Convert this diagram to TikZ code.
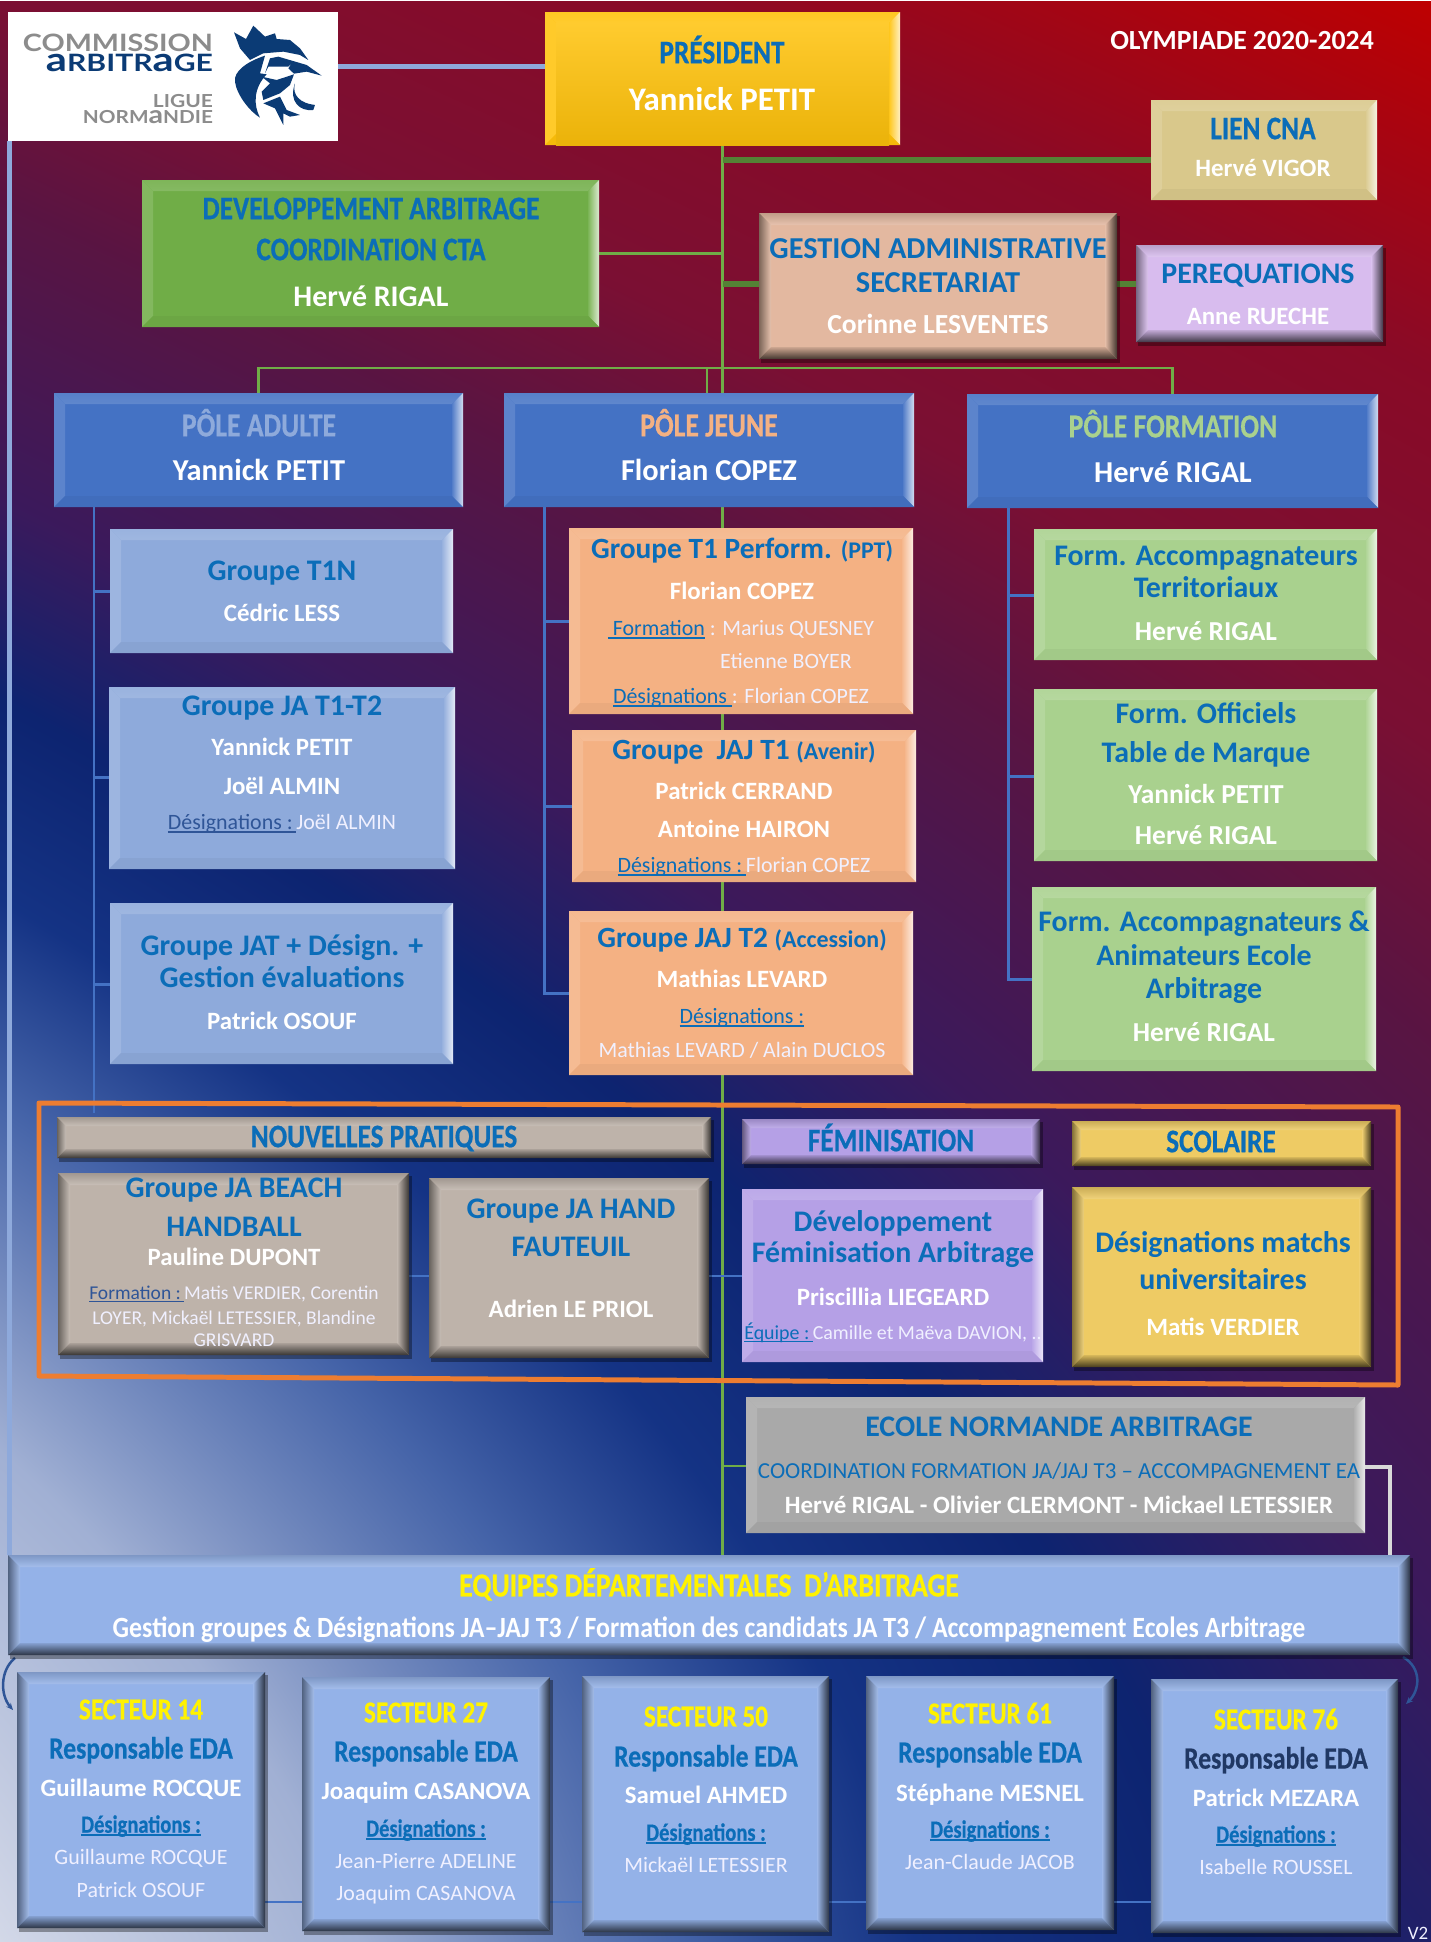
\documentclass[tikz,border=0pt]{standalone}
\usepackage{fontspec}
\usepackage{graphicx}
\setmainfont{Carlito}
\newfontface\condb{Carlito Bold}[FakeStretch=0.83,FakeBold=0.6]
\newfontface\condw{Carlito Bold}[FakeStretch=0.88]
\newfontfamily\logof{Lato}
\usetikzlibrary{arrows.meta,calc}
\definecolor{bluet}{HTML}{0B6DB8}
\definecolor{dkul}{HTML}{2F5597}
\definecolor{navyt}{HTML}{203864}
\definecolor{goldb}{HTML}{FFC20A}
\definecolor{greenb}{HTML}{70AD47}
\definecolor{sandb}{HTML}{D9C88B}
\definecolor{peachb}{HTML}{E3B8A0}
\definecolor{lilacb}{HTML}{D8BCEE}
\definecolor{poleb}{HTML}{4472C4}
\definecolor{skyb}{HTML}{8EAADB}
\definecolor{orab}{HTML}{F4B183}
\definecolor{lgreenb}{HTML}{A9D18E}
\definecolor{taupeb}{HTML}{BEB3AA}
\definecolor{violb}{HTML}{B5A0E6}
\definecolor{yelb}{HTML}{EECB64}
\definecolor{greyb}{HTML}{A9A9A9}
\definecolor{eqb}{HTML}{94B2E8}
\definecolor{lineg}{HTML}{70AD47}
\definecolor{linedg}{HTML}{548235}
\definecolor{lineb}{HTML}{4472C4}
\definecolor{linesky}{HTML}{8EA9DB}
\definecolor{frameo}{HTML}{ED7D31}
\definecolor{rooster}{HTML}{0B3B75}
\definecolor{logogrey}{HTML}{8C8C8C}
\pgfdeclarelayer{back}\pgfdeclarelayer{conn}
\pgfsetlayers{back,conn,main}
% background: piecewise colour ramp along a bent diagonal
\pgfdeclarefunctionalshading{bgshade}{\pgfpointorigin}{\pgfpoint{1431bp}{1942bp}}{}{
 1942 exch sub
 dup 1942 div dup mul
 dup dup mul
 3 index 1431 div dup 1 exch sub mul 850 mul mul
 exch 3 index 1431 div mul 680 mul
 add neg add
 exch 0.45 mul sub
 dup -300 lt { 650 add 350 div dup .75 exch -.21 mul add exch dup 0 exch .04 mul add exch 0 exch .15 mul add }
 { dup 0 lt { 300 add 300 div dup .54 exch -.06 mul add exch dup .04 exch .02 mul add exch .15 exch .05 mul add }
 { dup 200 lt { 200 div dup .48 exch -.13 mul add exch dup .06 exch .02 mul add exch .20 exch .06 mul add }
 { dup 500 lt { 200 sub 300 div dup .35 exch -.12 mul add exch dup .08 exch .02 mul add exch .26 exch .10 mul add }
 { dup 700 lt { 500 sub 200 div dup .23 exch -.18 mul add exch dup .10 exch .04 mul add exch .36 exch .08 mul add }
 { dup 900 lt { 700 sub 200 div dup .05 exch .03 mul add exch dup .14 exch .06 mul add exch .44 exch .08 mul add }
 { dup 1100 lt { 900 sub 200 div dup .08 exch .19 mul add exch dup .20 exch .19 mul add exch .52 exch .14 mul add }
 { dup 1450 lt { 1100 sub 350 div dup .27 exch .36 mul add exch dup .39 exch .30 mul add exch .66 exch .17 mul add }
 { 1450 sub 500 div dup .63 exch .20 mul add exch dup .69 exch .16 mul add exch .83 exch .08 mul add }
 ifelse } ifelse } ifelse } ifelse } ifelse } ifelse } ifelse } ifelse
}
\tikzset{
 txt/.style n args={3}{anchor=base,inner sep=0pt,outer sep=0pt,yshift={-0.31*#1*1pt},text=#2,font=#3\fontsize{#1}{#1}\selectfont},
 hd/.style={txt={#1}{bluet}{\condb}},
 ti/.style={txt={#1}{bluet}{\bfseries}},
 nm/.style={txt={#1}{white}{\bfseries}},
 hw/.style={txt={#1}{white}{\condw}},
 rg/.style={txt={#1}{white!94!blue}{}},
 yl/.style={txt={#1}{yellow}{\condb}},
 boxbody/.style={inner sep=0pt,outer sep=0pt,draw=none},
 link/.style={lineg,line width=2.5pt},
 linkthick/.style={linedg,line width=5.5pt},
 linkblue/.style={lineb,line width=3pt},
 linksky/.style={linesky,line width=5pt},
 linkpale/.style={white!85!black,line width=3.5pt},
 curl/.style={dkul,line width=2.5pt,-{Stealth[length=7pt,width=6pt]}},
 logotxt/.style={anchor=base east,inner sep=0pt,outer sep=0pt,font=\logof\bfseries\fontsize{#1}{#1}\selectfont},
}
\newcounter{tlc}
\newcommand{\tl}[4]{\stepcounter{tlc}\node[#3] (tl\arabic{tlc}) at (#1,#2) {#4};}
\newcommand{\ulx}[2]{{\setbox0\hbox{{\color{#1}#2}}\rlap{{\color{#1}\rule[-3.2pt]{\wd0}{1.6pt}}}\box0}}
\newcommand{\fitw}[2]{\resizebox{#1bp}{\height}{#2}}
\newcommand{\capa}{\scalebox{1.38}{a}}
% kinds: flat bevel (A) and bevel with dark lower and right sides (B)
\newcommand{\bxA}[6]{%
 \pgfmathsetmacro\bw{#4-#2}\pgfmathsetmacro\bh{#5-#3}%
 \pgfmathsetmacro\bd{11}%
 \node[boxbody,fill=#6,minimum width=\bw bp,minimum height=\bh bp] (#1) at ({(#2+#4)/2},{(#3+#5)/2}) {};
 \shade[top color=#6!90!white,middle color=#6!40!white,bottom color=#6!85!white] (#2,#3)--(#4,#3)--({#4-\bd},{#3+\bd})--({#2+\bd},{#3+\bd})--cycle;
 \fill[#6!87!white] (#2,#3)--({#2+\bd},{#3+\bd})--({#2+\bd},{#5-\bd})--(#2,#5)--cycle;
 \shade[left color=#6!92!white,right color=white!75!#6] (#4,#3)--({#4-\bd},{#3+\bd})--({#4-\bd},{#5-\bd})--(#4,#5)--cycle;
 \fill[#6!96!black] (#2,#5)--({#2+\bd},{#5-\bd})--({#4-\bd},{#5-\bd})--(#4,#5)--cycle;
}
\newcommand{\bxB}[6]{%
 \pgfmathsetmacro\bw{#4-#2}\pgfmathsetmacro\bh{#5-#3}%
 \pgfmathsetmacro\bd{\bh<60?9:12}%
 \fill[black,opacity=.35] ({#2+2},{#3+3}) rectangle ({#4+3},{#5+4});
 \node[boxbody,fill=#6,minimum width=\bw bp,minimum height=\bh bp] (#1) at ({(#2+#4)/2},{(#3+#5)/2}) {};
 \shade[top color=#6!85!black,middle color=#6!25!white,bottom color=#6!85!white] (#2,#3)--(#4,#3)--({#4-\bd},{#3+\bd})--({#2+\bd},{#3+\bd})--cycle;
 \shade[left color=#6!55!black,right color=#6!85!white] (#2,#3)--({#2+\bd},{#3+\bd})--({#2+\bd},{#5-\bd})--(#2,#5)--cycle;
 \shade[left color=#6!92!white,right color=#6!30!black] (#4,#3)--({#4-\bd},{#3+\bd})--({#4-\bd},{#5-\bd})--(#4,#5)--cycle;
 \shade[top color=#6!90!black,bottom color=#6!30!black] (#2,#5)--({#2+\bd},{#5-\bd})--({#4-\bd},{#5-\bd})--(#4,#5)--cycle;
}
\begin{document}
\begin{tikzpicture}[x=1bp,y=-1bp]
\useasboundingbox (0,0) rectangle (1431,1942);
\begin{pgfonlayer}{back}
 \node[inner sep=0pt,outer sep=0pt,anchor=north west] (bg) at (0,0) {\pgfuseshading{bgshade}};
\end{pgfonlayer}

% logo
\node[boxbody,fill=white,minimum width=330bp,minimum height=129bp] (logo) at (173,76.5) {};
\tl{213}{43}{logotxt=24,yshift=-8.5pt,text=logogrey}{\fitw{190}{COMMISSION}}
\tl{213}{63}{logotxt=24,yshift=-8.5pt,text=rooster}{\fitw{167}{\capa RBITR\capa GE}}
\tl{213}{101}{logotxt=18,yshift=-6.5pt,text=logogrey}{\fitw{60}{LIGUE}}
\tl{213}{117}{logotxt=18,yshift=-6.5pt,text=logogrey}{\fitw{130}{NORM\capa NDIE}}
\begin{scope}[shift={(220,15)},x=0.3333bp,y=-0.3333bp,fill=rooster]
 \fill (42,52)--(78,72)--(100,32)--(135,65)--(165,55)--(170,72)--(210,75)--(240,100)--(265,135)--(240,120)--(190,110)--(130,115)--(90,135)--(60,100)--cycle;
 \fill (135,122) .. controls (80,140) and (40,170) .. (45,200) .. controls (50,240) and (90,290) .. (120,308) .. controls (100,270) and (100,220) .. (140,178) -- (120,175) -- cycle;
 \fill (150,130)--(175,125)--(260,150)--(305,182)--(260,170)--(222,176)--(205,160)--(215,145)--(205,155)--(145,155)--(135,175)--cycle;
 \fill (125,185)--(170,195)--(222,178)--(210,210)--(180,235)--(130,255)--(125,230)--(150,205)--cycle;
 \fill (225,205) .. controls (215,240) and (240,265) .. (285,270) -- (280,285) .. controls (240,290) and (205,260) .. (225,205) -- cycle;
 \fill (130,265)--(180,245)--(200,285)--(240,300)--(210,305)--(190,295)--(190,330)--(165,280)--cycle;
\end{scope}

% top boxes
\bxA{pres}{545}{12}{900}{145}{goldb}
\shade[top color=goldb!85!white,middle color=goldb,bottom color=goldb!92!black] (556,23) rectangle (889,145);
\bxA{lien}{1151}{100}{1377}{200}{sandb}
\bxA{dev}{142}{180}{599}{327}{greenb}
\bxB{gest}{759}{213}{1117}{359}{peachb}
\bxB{pereq}{1136}{245}{1383}{342}{lilacb}
% poles
\bxA{padu}{54}{393}{463}{507}{poleb}
\bxA{pjeu}{504}{393}{914}{507}{poleb}
\bxA{pfor}{967}{394}{1378}{508}{poleb}
% adult column
\bxA{tin}{110}{529}{453}{653}{skyb}
\bxA{jat12}{109}{687}{455}{869}{skyb}
\bxA{jat}{110}{903}{453}{1064}{skyb}
% youth column
\bxA{perf}{569}{528}{913}{714}{orab}
\bxA{jaj1}{572}{730}{916}{882}{orab}
\bxA{jaj2}{569}{911}{913}{1075}{orab}
% training column
\bxA{terr}{1034}{529}{1377}{660}{lgreenb}
\bxA{offi}{1034}{689}{1377}{861}{lgreenb}
\bxA{anim}{1032}{887}{1376}{1071}{lgreenb}
% new practices band
\bxB{nouv}{57}{1117}{711}{1158}{taupeb}
\bxB{beach}{58}{1173}{409}{1355}{taupeb}
\bxB{faut}{429}{1178}{709}{1358}{taupeb}
\bxB{femh}{742}{1119}{1040}{1164}{violb}
\bxB{scoh}{1072}{1121}{1371}{1166}{yelb}
\bxA{fem}{742}{1189}{1043}{1362}{violb}
\bxB{sco}{1072}{1187}{1371}{1367}{yelb}
\bxA{ecole}{746}{1397}{1365}{1533}{greyb}
\bxB{equi}{8}{1555}{1410}{1655}{eqb}
% sectors
\bxB{s14}{17}{1672}{265}{1928}{eqb}
\bxB{s27}{302}{1677}{550}{1931}{eqb}
\bxB{s50}{582}{1676}{829}{1932}{eqb}
\bxB{s61}{866}{1676}{1114}{1930}{eqb}
\bxB{s76}{1151}{1679}{1398}{1933}{eqb}

% connectors
\begin{pgfonlayer}{conn}
 \coordinate (lj) at (1151,160);
 \coordinate (pl) at (338,66.5);
 \draw[linksky] (pl) -- (pl -| pres.west);
 \coordinate (lv) at (9.5,141);
 \draw[linksky] (lv) -- (lv |- equi.north);
 \draw[link] (pres.south) -- (pres.south |- equi.north);
 \draw[linkthick] (lj -| pres.south) -- (lj);
 \draw[link] (dev.east) -- (dev.east -| pres.south);
 \coordinate (gj) at (759,284);
 \draw[linkthick] (gj -| pres.south) -- (gj);
 \draw[linkthick] (gj -| gest.east) -- (gj -| pereq.west);
 \coordinate (hb) at (722.5,368);
 \draw[link] (padu.north) -- (padu.north |- hb) -- (pfor.north |- hb) -- (pfor.north);
 \coordinate (pjx) at (707,393);
 \draw[link] (pjx |- hb) -- (pjx);
 % adult
 \coordinate (av) at (94,507);
 \coordinate (ave) at (94,1113);
 \draw[linkblue] (av) -- (ave);
 \foreach \n/\yy in {tin/591,jat12/777,jat/984} {\coordinate (b\n) at (94,\yy); \draw[linkblue] (b\n) -- (b\n -| \n.west);}
 % youth
 \coordinate (jv) at (544,507);
 \coordinate (jve) at (544,993);
 \draw[linkblue] (jv) -- (jve) -- (jve -| jaj2.west);
 \foreach \n/\yy in {perf/621,jaj1/806} {\coordinate (b\n) at (544,\yy); \draw[linkblue] (b\n) -- (b\n -| \n.west);}
 % training
 \coordinate (fv) at (1008,508);
 \coordinate (fve) at (1008,979);
 \draw[linkblue] (fv) -- (fve) -- (fve -| anim.west);
 \foreach \n/\yy in {terr/595,offi/776} {\coordinate (b\n) at (1008,\yy); \draw[linkblue] (b\n) -- (b\n -| \n.west);}
 % band and school
 \coordinate (bl) at (409,1276);
 \draw[lineb,line width=1.5pt] (bl) -- (bl -| faut.west);
 \draw[lineb,line width=1.5pt] (bl -| faut.east) -- (bl -| fem.west);
 \coordinate (ej) at (746,1466);
 \draw[link] (ej -| pres.south) -- (ej);
 \coordinate (ep) at (1365,1467);
 \coordinate (eq) at (1390,1565);
 \draw[linkpale] (ep) -| (eq);
 % sectors
 \coordinate (sl) at (265,1902);
 \draw[lineb,line width=1.5pt] (sl) -- (sl -| s27.west);
 \draw[lineb,line width=1.5pt] (sl -| s27.east) -- (sl -| s50.west);
 \draw[lineb,line width=1.5pt] (sl -| s50.east) -- (sl -| s61.west);
 \draw[lineb,line width=1.5pt] (sl -| s61.east) -- (sl -| s76.west);
 \coordinate (cl1) at (15,1658); \coordinate (cl2) at (13,1710);
 \coordinate (cr1) at (1403,1657); \coordinate (cr2) at (1406,1704);
 \draw[curl] (cl1) .. controls (0,1670) and (0,1695) .. (cl2);
 \draw[curl] (cr1) .. controls (1422,1668) and (1420,1690) .. (cr2);
 \draw[frameo,line width=5pt,line join=round] (39,1103)--(1398,1107)--(1398,1385)--(39,1376)--cycle;
\end{pgfonlayer}

% texts
\tl{1242}{41}{nm=27.8}{OLYMPIADE 2020-2024}
\tl{722}{53}{hd=33}{PRÉSIDENT}
\tl{722}{100}{nm=33}{Yannick PETIT}
\tl{1263}{129}{hd=33}{LIEN CNA}
\tl{1263}{169}{nm=25}{Hervé VIGOR}
\tl{371}{209}{hd=33}{DEVELOPPEMENT ARBITRAGE}
\tl{371}{250}{hd=33}{COORDINATION CTA}
\tl{371}{297}{nm=30}{Hervé RIGAL}
\tl{938}{249}{ti=30.5}{GESTION ADMINISTRATIVE}
\tl{938}{283}{ti=30.5}{SECRETARIAT}
\tl{938}{325}{nm=27.7}{Corinne LESVENTES}
\tl{1258}{274}{ti=30}{PEREQUATIONS}
\tl{1258}{317}{nm=25}{Anne RUECHE}

\tl{259}{426}{txt={33.5}{skyb}{\condb}}{PÔLE ADULTE}
\tl{259}{471}{nm=30.5}{Yannick PETIT}
\tl{709}{426}{txt={33.5}{orab}{\condb}}{PÔLE JEUNE}
\tl{709}{471}{nm=30.5}{Florian COPEZ}
\tl{1173}{427}{txt={33.5}{lgreenb}{\condb}}{PÔLE FORMATION}
\tl{1173}{473}{nm=30.5}{Hervé RIGAL}

\tl{282}{571}{ti=30}{Groupe T1N}
\tl{282}{614}{nm=25}{Cédric LESS}
\tl{282}{706}{ti=30}{Groupe JA T1-T2}
\tl{282}{748}{nm=25}{Yannick PETIT}
\tl{282}{787}{nm=25}{Joël ALMIN}
\tl{282}{823}{rg=22}{\ulx{dkul}{Désignations :\,}Joël ALMIN}
\tl{282}{946}{ti=30}{Groupe JAT + Désign. +}
\tl{282}{978}{ti=30}{Gestion évaluations}
\tl{282}{1022}{nm=25}{Patrick OSOUF}

\tl{742}{549}{ti=29.5}{Groupe T1 Perform. {\fontsize{24}{24}\selectfont(PPT)}}
\tl{742}{592}{nm=25}{Florian COPEZ}
\tl{741}{629}{rg=22}{\ulx{bluet}{\ Formation} : Marius QUESNEY}
\tl{786}{662}{rg=22}{Etienne BOYER}
\tl{741}{697}{rg=22}{\ulx{bluet}{Désignations }: Florian COPEZ}
\tl{744}{750}{ti=29.5}{Groupe\ \ JAJ T1 {\fontsize{24}{24}\selectfont(Avenir)}}
\tl{744}{792}{nm=25}{Patrick CERRAND}
\tl{744}{830}{nm=25}{Antoine HAIRON}
\tl{744}{866}{rg=22}{\ulx{bluet}{Désignations :\,}Florian COPEZ}
\tl{742}{938}{ti=29.5}{Groupe JAJ T2 {\fontsize{24}{24}\selectfont(Accession)}}
\tl{742}{980}{nm=25}{Mathias LEVARD}
\tl{742}{1017}{rg=22}{\ulx{bluet}{Désignations :}}
\tl{742}{1051}{rg=22}{Mathias LEVARD / Alain DUCLOS}

\tl{1206}{556}{ti=30}{Form. Accompagnateurs}
\tl{1206}{588}{ti=30}{Territoriaux}
\tl{1206}{632}{nm=27.5}{Hervé RIGAL}
\tl{1206}{714}{ti=30}{Form. Officiels}
\tl{1206}{753}{ti=30}{Table de Marque}
\tl{1206}{795}{nm=27.5}{Yannick PETIT}
\tl{1206}{836}{nm=27.5}{Hervé RIGAL}
\tl{1204}{922}{ti=30}{Form. Accompagnateurs \&}
\tl{1204}{956}{ti=30}{Animateurs Ecole}
\tl{1204}{989}{ti=30}{Arbitrage}
\tl{1204}{1033}{nm=27.5}{Hervé RIGAL}

\tl{384}{1137}{hd=33}{NOUVELLES PRATIQUES}
\tl{234}{1188}{ti=30}{Groupe JA BEACH}
\tl{234}{1227}{ti=30}{HANDBALL}
\tl{234}{1258}{nm=25}{Pauline DUPONT}
\tl{234}{1293}{rg=19.6}{\ulx{dkul}{Formation :\,}Matis VERDIER, Corentin}
\tl{234}{1318}{rg=19.6}{LOYER, Mickaël LETESSIER, Blandine}
\tl{234}{1340}{rg=19.6}{GRISVARD}
\tl{571}{1209}{ti=30}{Groupe JA HAND}
\tl{571}{1247}{ti=30}{FAUTEUIL}
\tl{571}{1310}{nm=25}{Adrien LE PRIOL}
\tl{891}{1141}{hd=33}{FÉMINISATION}
\tl{1221}{1142}{hd=33}{SCOLAIRE}
\tl{893}{1222}{ti=30}{Développement}
\tl{893}{1253}{ti=30}{Féminisation Arbitrage}
\tl{893}{1298}{nm=25}{Priscillia LIEGEARD}
\tl{893}{1333}{rg=20}{\ulx{bluet}{Équipe :\,}Camille et Maëva DAVION, ..}
\tl{1223}{1243}{ti=30}{Désignations matchs}
\tl{1223}{1280}{ti=30}{universitaires}
\tl{1223}{1328}{nm=25}{Matis VERDIER}
\tl{1059}{1427}{ti=30}{ECOLE NORMANDE ARBITRAGE}
\tl{1059}{1471}{txt={23}{bluet}{}}{COORDINATION FORMATION JA/JAJ T3 – ACCOMPAGNEMENT EA}
\tl{1059}{1506}{nm=25}{Hervé RIGAL - Olivier CLERMONT - Mickael LETESSIER}

\tl{709}{1586}{yl=33.7}{EQUIPES DÉPARTEMENTALES\ \ D’ARBITRAGE}
\tl{709}{1628}{hw=29.5}{Gestion groupes \& Désignations JA–JAJ T3 / Formation des candidats JA T3 / Accompagnement Ecoles Arbitrage}

% sectors text
\tl{141}{1710}{yl=30.5}{SECTEUR 14}
\tl{141}{1749}{hd=31}{Responsable EDA}
\tl{141}{1789}{nm=25}{Guillaume ROCQUE}
\tl{141}{1825}{hd=24.8}{\ulx{bluet}{Désignations :}}
\tl{141}{1858}{rg=22}{Guillaume ROCQUE}
\tl{141}{1891}{rg=22}{Patrick OSOUF}
\tl{426}{1713}{yl=30.5}{SECTEUR 27}
\tl{426}{1752}{hd=31}{Responsable EDA}
\tl{426}{1792}{nm=25}{Joaquim CASANOVA}
\tl{426}{1829}{hd=24.8}{\ulx{bluet}{Désignations :}}
\tl{426}{1862}{rg=22}{Jean-Pierre ADELINE}
\tl{426}{1894}{rg=22}{Joaquim CASANOVA}
\tl{706}{1717}{yl=30.5}{SECTEUR 50}
\tl{706}{1757}{hd=31}{Responsable EDA}
\tl{706}{1796}{nm=25}{Samuel AHMED}
\tl{706}{1833}{hd=24.8}{\ulx{bluet}{Désignations :}}
\tl{706}{1866}{rg=22}{Mickaël LETESSIER}
\tl{990}{1714}{yl=30.5}{SECTEUR 61}
\tl{990}{1753}{hd=31}{Responsable EDA}
\tl{990}{1794}{nm=25}{Stéphane MESNEL}
\tl{990}{1830}{hd=24.8}{\ulx{bluet}{Désignations :}}
\tl{990}{1863}{rg=22}{Jean-Claude JACOB}
\tl{1276}{1720}{yl=30.5}{SECTEUR 76}
\tl{1276}{1759}{txt={31}{navyt}{\condb}}{Responsable EDA}
\tl{1276}{1799}{nm=25}{Patrick MEZARA}
\tl{1276}{1835}{hd=24.8}{\ulx{bluet}{Désignations :}}
\tl{1276}{1868}{rg=22}{Isabelle ROUSSEL}
\tl{1418}{1934}{rg=19}{V2}
\end{tikzpicture}
\end{document}
